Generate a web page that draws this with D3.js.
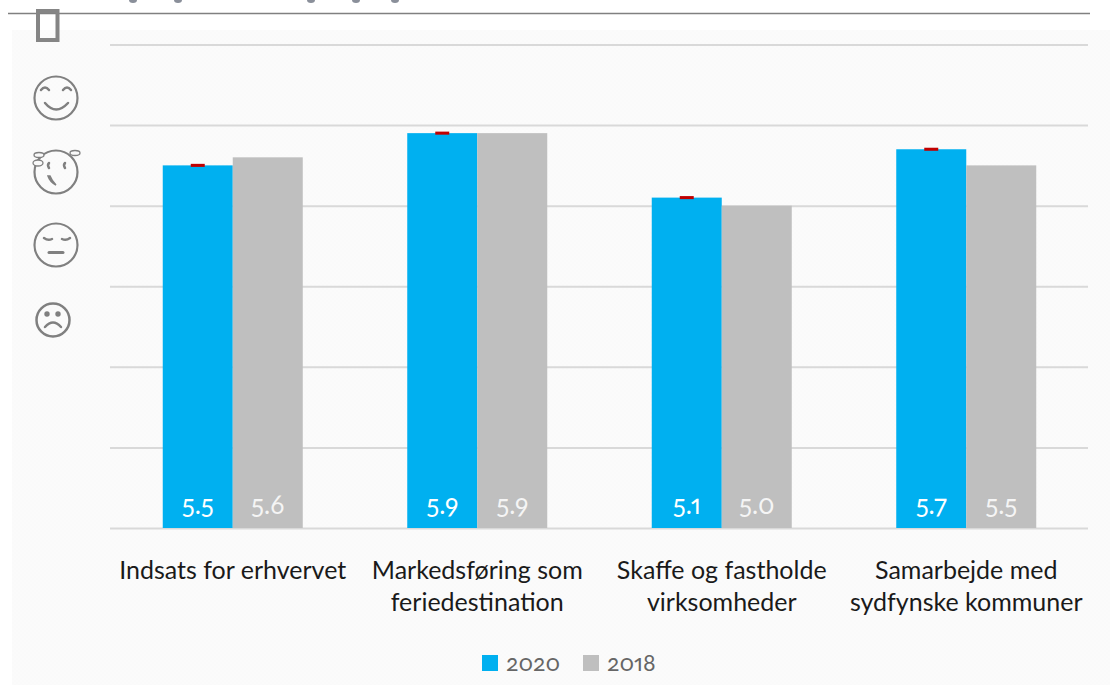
<!DOCTYPE html>
<html><head><meta charset="utf-8">
<script src="https://cdn.jsdelivr.net/npm/d3@7"></script>
<style>
html,body{margin:0;padding:0;background:#fff;overflow:hidden}
svg{display:block}
text{font-family:Lato,"Open Sans",sans-serif;font-feature-settings:"onum" 1,"pnum" 1}
</style></head><body>
<svg id="c" width="1110" height="685"></svg>
<script>
const categories=[["Indsats for erhvervet"],["Markedsføring som","feriedestination"],["Skaffe og fastholde","virksomheder"],["Samarbejde med","sydfynske kommuner"]];
const seriesNames=["2020","2018"];
const values2020=[5.5,5.9,5.1,5.7];
const values2018=[5.6,5.9,5.0,5.5];
const errors2020=[0.02,0.02,0.02,0.02];
const yTicks=[1,2,3,4,5,6,7];
const colors=["#00b0f0","#bfbfbf"];

const svg=d3.select("#c");
const defs=svg.append("defs");
const pat=defs.append("pattern").attr("id","bgp").attr("width",4).attr("height",4).attr("patternUnits","userSpaceOnUse");
pat.append("rect").attr("width",4).attr("height",4).attr("fill","#fafafa");
pat.append("rect").attr("width",2).attr("height",2).attr("fill","#fbfbfb");
pat.append("rect").attr("x",2).attr("y",2).attr("width",2).attr("height",2).attr("fill","#fbfbfb");

svg.append("rect").attr("x",12).attr("y",30).attr("width",1098).attr("height",655).attr("fill","url(#bgp)");
svg.append("line").attr("x1",8).attr("x2",1090).attr("y1",13.5).attr("y2",13.5).attr("stroke","#808080").attr("stroke-width",1.5);

const y=d3.scaleLinear().domain([1,7]).range([528,44.5]);
const x0=d3.scaleBand().domain(d3.range(categories.length)).range([110.5,1088.5]).paddingInner(0.4274).paddingOuter(0.2137);
const x1=d3.scaleBand().domain(seriesNames).range([0,x0.bandwidth()]);

const grid=d3.axisLeft(y).tickValues(yTicks).tickSize(-978).tickFormat("");
const gg=svg.append("g").attr("transform","translate(110,0)").call(grid);
gg.select(".domain").remove();
gg.selectAll("line").attr("stroke","#d9d9d9").attr("stroke-width",2);

[values2020,values2018].forEach((vals,s)=>{
  const name=seriesNames[s];
  const g=svg.append("g");
  g.selectAll("rect").data(vals).join("rect")
    .attr("x",(d,i)=>x0(i)+x1(name)).attr("width",x1.bandwidth())
    .attr("y",d=>y(d)).attr("height",d=>y(1)-y(d)).attr("fill",colors[s]);
  g.selectAll("text").data(vals).join("text")
    .attr("x",(d,i)=>x0(i)+x1(name)+x1.bandwidth()/2).attr("y",514)
    .attr("text-anchor","middle").attr("font-size",26).attr("fill","#fff").attr("fill-opacity",s?0.85:1)
    .text(d=>d.toFixed(1));
});

svg.append("g").selectAll("line").data(values2020).join("line")
  .attr("x1",(d,i)=>x0(i)+x1("2020")+x1.bandwidth()/2-7)
  .attr("x2",(d,i)=>x0(i)+x1("2020")+x1.bandwidth()/2+7)
  .attr("y1",d=>y(d)).attr("y2",d=>y(d))
  .attr("stroke","#c00000").attr("stroke-width",(d,i)=>Math.abs(y(0)-y(errors2020[i]))*1.9);

const lab=svg.append("g");
categories.forEach((lines,i)=>{
  const t=lab.append("text").attr("text-anchor","middle").attr("font-size",25).attr("fill","#1a1a1a");
  lines.forEach((l,k)=>t.append("tspan").attr("x",x0(i)+x0.bandwidth()/2).attr("y",579+k*32).text(l));
});

const legendX=[482,583];
seriesNames.forEach((n,i)=>{
  svg.append("rect").attr("x",legendX[i]).attr("y",655).attr("width",16).attr("height",16).attr("fill",colors[i]);
  svg.append("text").attr("x",legendX[i]+24).attr("y",671).attr("font-size",23).attr("fill","#666").text(n);
});

// icons
const ic=svg.append("g").attr("fill","none").attr("stroke","#808080").attr("stroke-width",2.2).attr("stroke-linecap","round");
ic.append("rect").attr("x",38).attr("y",11).attr("width",19.5).attr("height",29).attr("stroke-width",4).attr("stroke","#858585").attr("stroke-linejoin","miter");
// smile
ic.append("circle").attr("cx",56).attr("cy",98).attr("r",21.5);
ic.append("path").attr("d","M41 90q4-5 8 0M63 90q4-5 8 0").attr("stroke-width",2.5);
ic.append("path").attr("d","M45 103q11 13 23 0").attr("stroke-width",2.5);
// worried with drops
ic.append("circle").attr("cx",56).attr("cy",172).attr("r",21.5);
ic.append("path").attr("d","M49 163q-2 2 0 5M65 163q-2 2 0 5").attr("stroke-width",2.5);
ic.append("path").attr("d","M48 176q2 6 8 9q-4-4-6-9z").attr("stroke-width",1.5).attr("fill","#808080");
ic.append("g").attr("stroke-width",1.3).attr("fill","#f9f9f9").selectAll("ellipse")
  .data([[39,155,5,2.5],[38,163,5,3],[75,153,5,2.5]]).join("ellipse")
  .attr("cx",d=>d[0]).attr("cy",d=>d[1]).attr("rx",d=>d[2]).attr("ry",d=>d[3]);
// neutral sleepy
ic.append("circle").attr("cx",56).attr("cy",245).attr("r",21.5);
ic.append("path").attr("d","M44 238q4 3 8 1M62 239q4 2 8-1").attr("stroke-width",2.5);
ic.append("path").attr("d","M49 252.5h14").attr("stroke-width",3);
// sad
ic.append("circle").attr("cx",53).attr("cy",320).attr("r",16.5).attr("stroke-width",2.5);
ic.append("circle").attr("cx",47).attr("cy",314).attr("r",1.6).attr("fill","#808080");
ic.append("circle").attr("cx",58).attr("cy",314).attr("r",1.6).attr("fill","#808080");
ic.append("path").attr("d","M45 327q8-9 16 0").attr("stroke-width",2.5);

// clipped descenders of cut-off heading
svg.append("g").attr("fill","#8a8f9a").selectAll("ellipse").data([133,178,311,356,395]).join("ellipse")
  .attr("cx",d=>d).attr("cy",0).attr("rx",4).attr("ry",3);
</script></body></html>
